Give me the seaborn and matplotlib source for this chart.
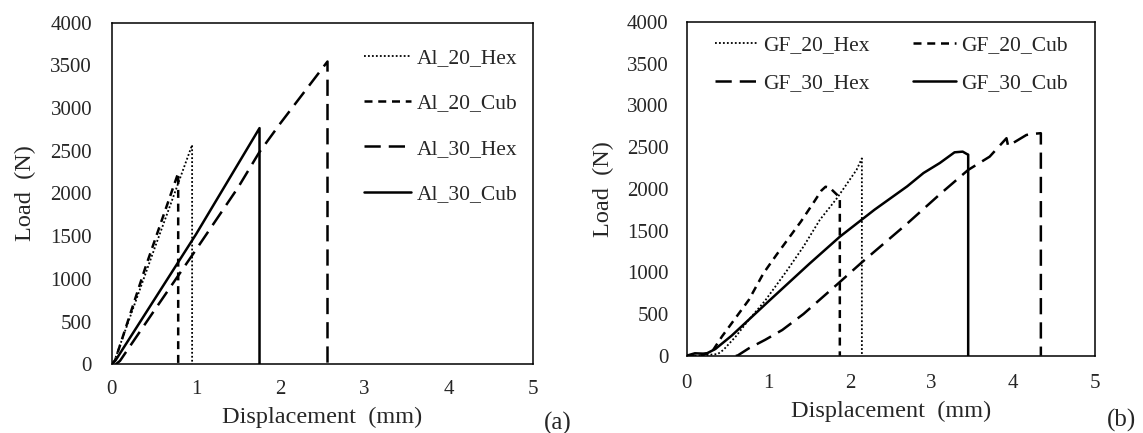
import numpy as np
import pandas as pd
import matplotlib
matplotlib.use("Agg")
import matplotlib.pyplot as plt
import seaborn as sns

# ---------------- data ----------------
# panel (a)
al20hex_x = [0.0, 0.03, 0.5, 0.955, 0.955]
al20hex_y = [0, 30, 1330, 2568, 0]
al20cub_x = [0.0, 0.04, 0.4, 0.79, 0.79]
al20cub_y = [0, 40, 1130, 2240, 0]
al30hex_x = [0.05, 0.1, 0.5, 1.0, 1.5, 1.75, 2.0, 2.56, 2.56]
al30hex_y = [0, 40, 620, 1340, 2070, 2480, 2820, 3545, 0]
al30cub_x = [0.0, 0.05, 1.0, 1.754, 1.754]
al30cub_y = [0, 50, 1520, 2765, 0]

# panel (b)
gf20hex_x = [0.0, 0.2, 0.38, 0.45, 0.6, 0.76, 0.96, 1.22, 1.43, 1.63, 1.84, 2.08, 2.145, 2.145]
gf20hex_y = [0, 5, 20, 70, 230, 430, 660, 1010, 1308, 1628, 1888, 2228, 2365, 0]
gf20cub_x = [0.0, 0.1, 0.2, 0.31, 0.43, 0.55, 0.76, 0.94, 1.1, 1.25, 1.4, 1.55, 1.65, 1.7, 1.75, 1.84, 1.875, 1.875]
gf20cub_y = [0, 0, 10, 48, 228, 388, 668, 988, 1210, 1410, 1610, 1830, 1980, 2025, 2015, 1930, 1900, 0]
gf30hex_x = [0.6, 0.62, 0.76, 0.96, 1.17, 1.43, 1.86, 2.14, 2.69, 3.10, 3.447, 3.71, 3.916, 3.936, 4.16, 4.25, 4.337, 4.337]
gf30hex_y = [0, 0, 88, 190, 308, 500, 870, 1115, 1575, 1935, 2227, 2386, 2607, 2514, 2646, 2660, 2667, 0]
gf30cub_x = [0.0, 0.05, 0.1, 0.2, 0.25, 0.35, 0.55, 1.0, 1.5, 1.876, 2.3, 2.7, 2.9, 3.1, 3.28, 3.38, 3.43, 3.447, 3.447]
gf30cub_y = [0, 15, 29, 25, 30, 80, 240, 650, 1100, 1427, 1750, 2030, 2190, 2310, 2438, 2446, 2418, 2410, 0]

labels_a = ["Al_20_Hex", "Al_20_Cub", "Al_30_Hex", "Al_30_Cub"]
labels_b = ["GF_20_Hex", "GF_20_Cub", "GF_30_Hex", "GF_30_Cub"]
x_ticks = [0, 1, 2, 3, 4, 5]
y_ticks = [0, 500, 1000, 1500, 2000, 2500, 3000, 3500, 4000]

# ---------------- style ----------------
sns.set_theme(style="white")
plt.rcParams['font.family'] = ['Liberation Serif', 'DejaVu Serif']
plt.rcParams['axes.edgecolor'] = 'black'
plt.rcParams['axes.linewidth'] = 1.1

styles = [
    dict(linestyle=(0, (1.0, 1.2)), linewidth=1.3),   # dotted
    dict(linestyle=(0, (3.2, 2.3)), linewidth=1.8),   # short dash
    dict(linestyle=(0, (6.5, 3.2)), linewidth=1.8),   # long dash
    dict(linestyle='-', linewidth=1.8),               # solid
]

fig = plt.figure(figsize=(11.43, 4.33), dpi=100)
ax1 = fig.add_axes([0.0976, 0.1587, 0.369, 0.789])
ax2 = fig.add_axes([0.6008, 0.1785, 0.3572, 0.7707])

def draw(ax, xs, ys, labels):
    for x, y, lab, st in zip(xs, ys, labels, styles):
        df = pd.DataFrame({"Displacement": x, "Load": y})
        sns.lineplot(data=df, x="Displacement", y="Load", ax=ax, estimator=None,
                     sort=False, color="black", label=lab, **st)

draw(ax1, [al20hex_x, al20cub_x, al30hex_x, al30cub_x],
     [al20hex_y, al20cub_y, al30hex_y, al30cub_y], labels_a)
draw(ax2, [gf20hex_x, gf20cub_x, gf30hex_x, gf30cub_x],
     [gf20hex_y, gf20cub_y, gf30hex_y, gf30cub_y], labels_b)

for ax in (ax1, ax2):
    ax.set_xlim(0, 5)
    ax.set_ylim(0, 4000)
    ax.set_xticks(x_ticks)
    ax.set_yticks(y_ticks)
    ax.set_xticklabels([str(v) for v in x_ticks], fontsize=15)
    ax.set_yticklabels([str(v) for v in y_ticks], fontsize=15)
    for s in ax.spines.values():
        s.set_visible(True)
        s.set_color('black')
        s.set_linewidth(1.1)
    ax.set_facecolor('white')

ax1.tick_params(axis='both', direction='out', length=5, width=1, color='black')
ax1.tick_params(axis='y', pad=9)
ax1.tick_params(axis='x', pad=6)
ax2.tick_params(axis='both', direction='in', length=5, width=1, color='black')
ax2.tick_params(axis='y', pad=13)
ax2.tick_params(axis='x', pad=13)

ax1.set_xlabel("Displacement  (mm)", fontsize=17.5, labelpad=6)
ax1.set_ylabel("Load  (N)", fontsize=17.5, labelpad=10)
ax2.set_xlabel("Displacement  (mm)", fontsize=17.5, labelpad=6)
ax2.set_ylabel("Load  (N)", fontsize=17.5, labelpad=9)

ax1.legend(loc='upper left', bbox_to_anchor=(363.6 / 1143, 1 - 48 / 433),
           bbox_transform=fig.transFigure, frameon=False, fontsize=15.5,
           handlelength=2.2, handletextpad=0.25, labelspacing=1.18, borderpad=0,
           borderaxespad=0)

h, l = ax2.get_legend_handles_labels()
order = [0, 2, 1, 3]
ax2.legend([h[i] for i in order], [l[i] for i in order],
           loc='upper left', bbox_to_anchor=(715 / 1143, 1 - 35 / 433),
           bbox_transform=fig.transFigure, frameon=False, fontsize=15.5, ncol=2,
           handlelength=2.0, handletextpad=0.25, labelspacing=0.85, columnspacing=2.0,
           borderpad=0, borderaxespad=0)

fig.text(558 / 1143, 1 - 423 / 433, "(a)", fontsize=18, ha='center', va='center')
fig.text(1122 / 1143, 1 - 420 / 433, "(b)", fontsize=18, ha='center', va='center')

fig.savefig("out.png", dpi=100, facecolor='white')
